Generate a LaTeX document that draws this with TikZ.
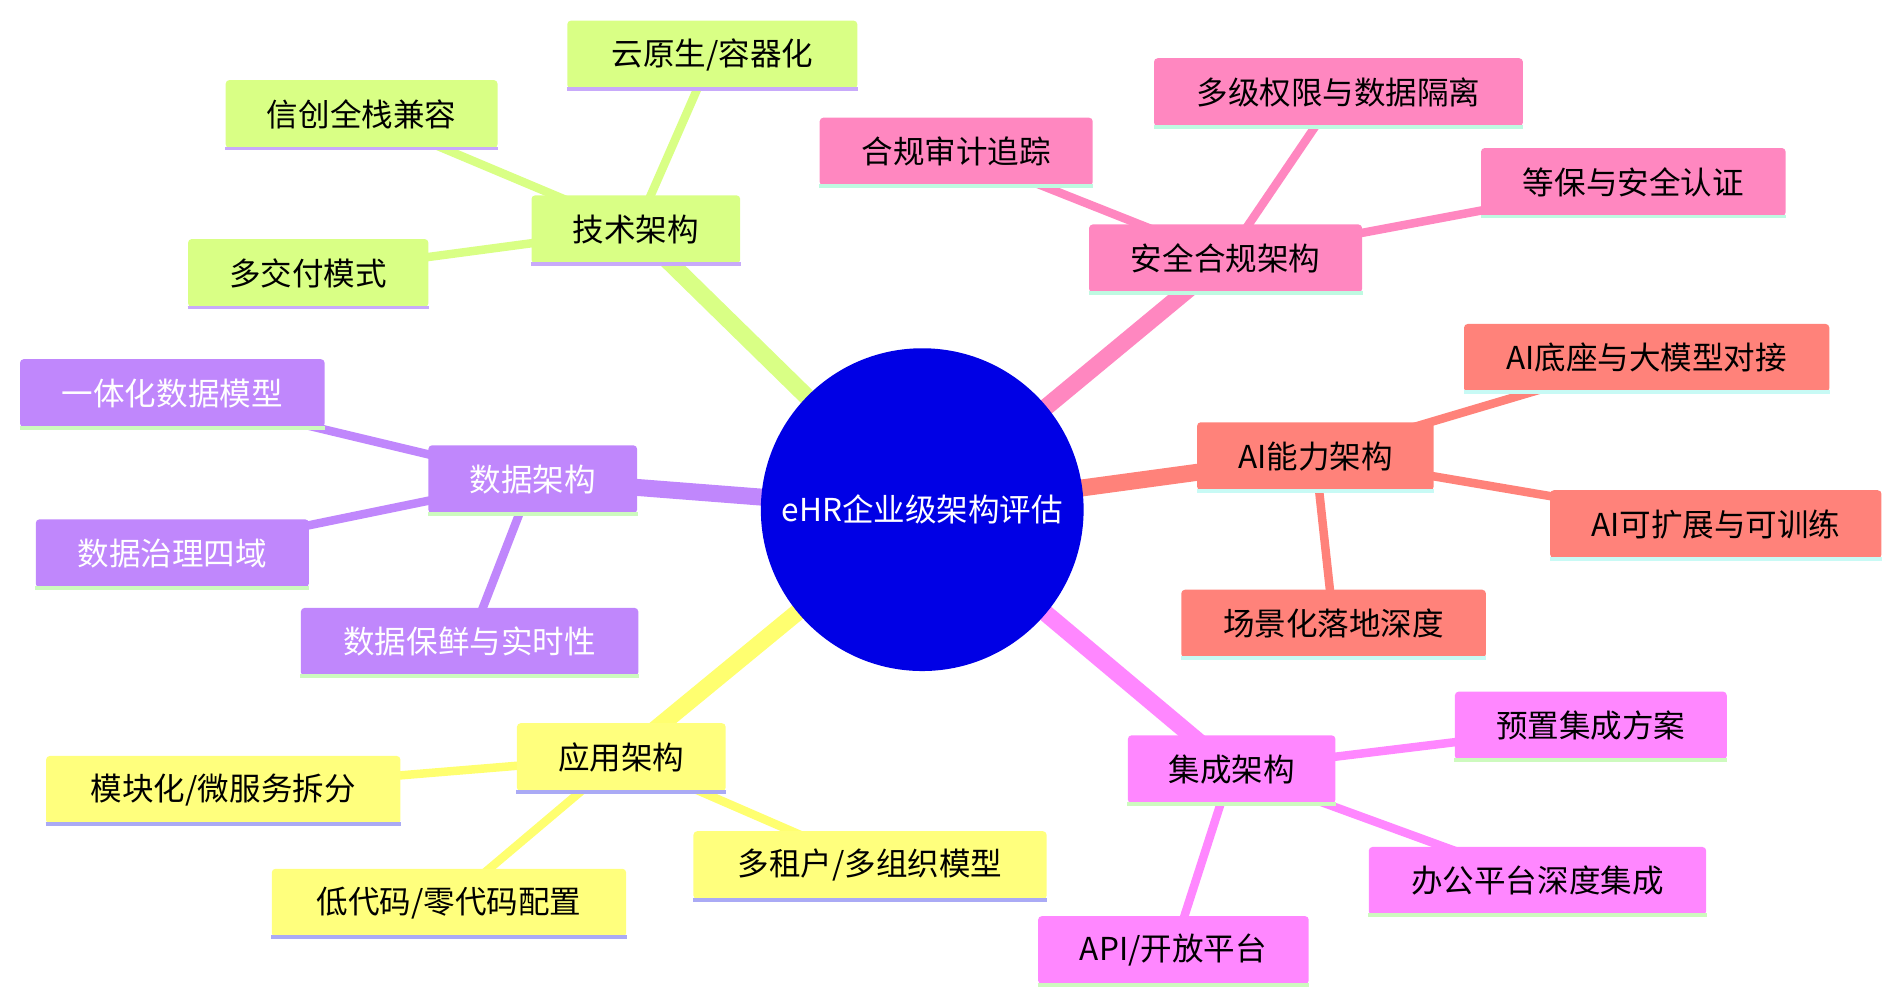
\documentclass[tikz,border=0pt]{standalone}
\usepackage{fontspec}
\setmainfont{Noto Sans CJK SC}
\usetikzlibrary{backgrounds}
\definecolor{cTech}{RGB}{217,255,133}
\definecolor{cData}{RGB}{192,135,252}
\definecolor{cApp}{RGB}{255,255,125}
\definecolor{cSec}{RGB}{255,135,192}
\definecolor{cAI}{RGB}{255,130,122}
\definecolor{cInt}{RGB}{255,135,255}
\definecolor{uPurple}{RGB}{200,170,250}
\definecolor{uGreen}{RGB}{205,250,190}
\definecolor{uBlue}{RGB}{170,170,245}
\definecolor{uMint}{RGB}{190,250,225}
\definecolor{uCyan}{RGB}{200,250,245}
\begin{document}
\begin{tikzpicture}[x=0.5pt,y=-0.5pt,
  every node/.style={font=\fontsize{13}{15}\selectfont},
  box/.style={rectangle, rounded corners=1.5pt, minimum height=28pt, inner sep=0pt},
  link/.style={line width=3.5pt},
  trunk/.style={line width=7pt}]
\useasboundingbox (0,0) rectangle (1560,822);

% Box with underline: name, position, width, fill, underline, text colour, text
\newcommand{\bx}[7]{%
  \node[box, fill=#4, text=#6, minimum width=#3*0.5pt] (#1) at (#2) {#7};
  \draw[#5, line width=1.6pt] (#1.south west) -- (#1.south east);}

%Root
\node[circle, fill=blue!90!black, minimum size=133pt, text=white] (root) at (760,420) {eHR企业级架构评估};

%Technical branch
\bx{tech}{524,189}{172}{cTech}{uPurple}{black}{技术架构}
\bx{cloud}{587,45}{239}{cTech}{uPurple}{black}{云原生/容器化}
\bx{xc}{298,94}{224}{cTech}{uPurple}{black}{信创全栈兼容}
\bx{deliv}{254,225}{198}{cTech}{uPurple}{black}{多交付模式}

%Data branch
\bx{data}{439,395}{172}{cData}{uGreen}{white}{数据架构}
\bx{model}{142,324}{251}{cData}{uGreen}{white}{一体化数据模型}
\bx{gov}{142,456}{225}{cData}{uGreen}{white}{数据治理四域}
\bx{fresh}{387,529}{278}{cData}{uGreen}{white}{数据保鲜与实时性}

%Application branch
\bx{app}{512,624}{172}{cApp}{uBlue}{black}{应用架构}
\bx{micro}{184,651}{292}{cApp}{uBlue}{black}{模块化/微服务拆分}
\bx{lowc}{370,744}{292}{cApp}{uBlue}{black}{低代码/零代码配置}
\bx{tenant}{717,713}{291}{cApp}{uBlue}{black}{多租户/多组织模型}

%Security branch
\bx{sec}{1010,213}{225}{cSec}{uMint}{black}{安全合规架构}
\bx{audit}{788,125}{225}{cSec}{uMint}{black}{合规审计追踪}
\bx{perm}{1103,76}{304}{cSec}{uMint}{black}{多级权限与数据隔离}
\bx{cert}{1346,150}{251}{cSec}{uMint}{black}{等保与安全认证}

%AI branch
\bx{ai}{1084,376}{195}{cAI}{uCyan}{black}{AI能力架构}
\bx{llm}{1357,295}{301}{cAI}{uCyan}{black}{AI底座与大模型对接}
\bx{train}{1414,432}{273}{cAI}{uCyan}{black}{AI可扩展与可训练}
\bx{scene}{1099,514}{251}{cAI}{uCyan}{black}{场景化落地深度}

%Integration branch
\bx{integ}{1015,634}{171}{cInt}{uGreen}{black}{集成架构}
\bx{preset}{1311,598}{224}{cInt}{uGreen}{black}{预置集成方案}
\bx{office}{1267,726}{278}{cInt}{uGreen}{black}{办公平台深度集成}
\bx{api}{967,783}{223}{cInt}{uGreen}{black}{API/开放平台}

%Connecting branches
\begin{scope}[on background layer]
\draw[trunk, cTech] (root.center) -- (tech.center);
\draw[trunk, cData] (root.center) -- (data.center);
\draw[trunk, cApp!90!yellow] (root.center) -- (app.center);
\draw[trunk, cSec] (root.center) -- (sec.center);
\draw[trunk, cAI] (root.center) -- (ai.center);
\draw[trunk, cInt] (root.center) -- (integ.center);
\foreach \a/\b in {cloud/tech, xc/tech, deliv/tech}
  \draw[link, cTech] (\a.center) -- (\b.center);
\foreach \a/\b in {model/data, gov/data, fresh/data}
  \draw[link, cData] (\a.center) -- (\b.center);
\foreach \a/\b in {micro/app, lowc/app, tenant/app}
  \draw[link, cApp!90!yellow] (\a.center) -- (\b.center);
\foreach \a/\b in {audit/sec, perm/sec, cert/sec}
  \draw[link, cSec] (\a.center) -- (\b.center);
\foreach \a/\b in {llm/ai, train/ai, scene/ai}
  \draw[link, cAI] (\a.center) -- (\b.center);
\foreach \a/\b in {preset/integ, office/integ, api/integ}
  \draw[link, cInt] (\a.center) -- (\b.center);
\end{scope}
\end{tikzpicture}
\end{document}
